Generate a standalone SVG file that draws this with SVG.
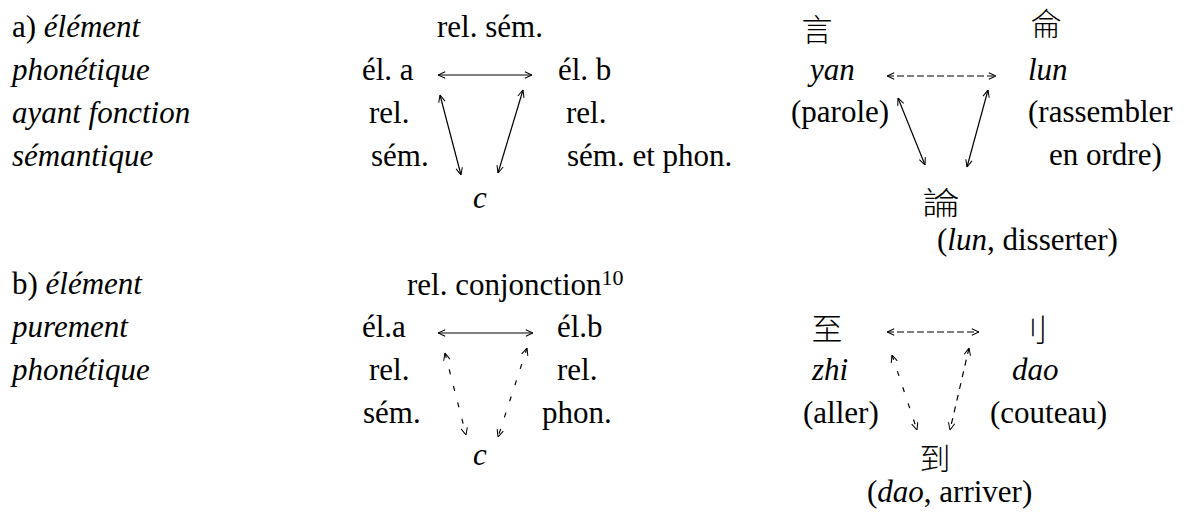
<svg xmlns="http://www.w3.org/2000/svg" width="1184" height="515" viewBox="0 0 1184 515">
<style>
text{font-family:"Liberation Serif","Times New Roman",serif;font-size:31px;fill:#000}
.i{font-style:italic}
.cjk{font-family:"Noto Sans CJK SC","Noto Sans CJK TC",sans-serif;font-weight:300}
.ln{stroke:#000;stroke-width:1.2;fill:none;marker-start:url(#ah);marker-end:url(#ah)}
.d1{stroke-dasharray:7 3}
.d2{stroke-dasharray:5 12}
.d3{stroke-dasharray:6 6}
</style>
<defs>
<marker id="ah" viewBox="0 0 10 10" refX="10" refY="5" markerWidth="8" markerHeight="8" markerUnits="userSpaceOnUse" orient="auto-start-reverse">
<path d="M1,1 L10,5 L1,9" fill="none" stroke="#000" stroke-width="1.3"/>
</marker>
</defs>
<rect width="1184" height="515" fill="#fff"/>

<g id="label-a">
<text x="12" y="37">a) <tspan class="i">élément</tspan></text>
<text class="i" x="12" y="80">phonétique</text>
<text class="i" x="12" y="123">ayant fonction</text>
<text class="i" x="12" y="166">sémantique</text>
</g>
<g id="label-b">
<text x="12" y="294">b) <tspan class="i">élément</tspan></text>
<text class="i" x="12" y="337">purement</text>
<text class="i" x="12" y="380">phonétique</text>
</g>

<g id="a-rel-sem"><text x="437" y="37">rel. sém.</text></g>
<g id="a-el-a"><text x="362" y="80">él. a</text></g>
<g id="a-el-b"><text x="558" y="80">él. b</text></g>
<g id="a-rel-left"><text x="369" y="123">rel.</text><text x="371" y="166">sém.</text></g>
<g id="a-rel-right"><text x="566" y="123">rel.</text><text x="567" y="166">sém. et phon.</text></g>
<g id="a-c"><text class="i" x="473" y="208">c</text></g>

<g id="a-yan"><text class="cjk" x="817" y="41" font-size="30" text-anchor="middle">言</text><text class="i" x="810" y="80">yan</text><text x="791" y="122">(parole)</text></g>
<g id="a-lun"><text class="cjk" x="1046" y="35" font-size="32" text-anchor="middle">侖</text><text class="i" x="1028" y="80">lun</text><text x="1028" y="122">(rassembler</text><text x="1049" y="165">en ordre)</text></g>
<g id="a-lun2"><text class="cjk" transform="translate(941,214) scale(1.2,1)" x="0" y="0" font-size="40" text-anchor="middle">論</text><text x="937" y="250">(<tspan class="i">lun</tspan>, disserter)</text></g>

<g id="b-rel-conj"><text x="407" y="295">rel. conjonction<tspan font-size="22" dy="-10">10</tspan></text></g>
<g id="b-el-a"><text x="362" y="337">él.a</text></g>
<g id="b-el-b"><text x="557" y="337">él.b</text></g>
<g id="b-rel-left"><text x="369" y="380">rel.</text><text x="363" y="423">sém.</text></g>
<g id="b-rel-right"><text x="557" y="380">rel.</text><text x="542" y="423">phon.</text></g>
<g id="b-c"><text class="i" x="473" y="465">c</text></g>

<g id="b-zhi"><text class="cjk" x="827" y="340" font-size="30" text-anchor="middle">至</text><text class="i" x="812" y="380">zhi</text><text x="803" y="423">(aller)</text></g>
<g id="b-dao"><text class="cjk" x="1032" y="341" font-size="30" text-anchor="middle">刂</text><text class="i" x="1012" y="380">dao</text><text x="990" y="423">(couteau)</text></g>
<g id="b-dao2"><text class="cjk" x="935" y="470" font-size="33" text-anchor="middle">到</text><text x="867" y="502">(<tspan class="i">dao</tspan>, arriver)</text></g>

<g id="connectors">
<line class="ln" x1="438" y1="75" x2="532" y2="75"/>
<line class="ln" x1="440" y1="95" x2="461" y2="175"/>
<line class="ln" x1="523" y1="90" x2="498" y2="173"/>
<line class="ln d1" x1="887" y1="76" x2="996" y2="76"/>
<line class="ln" x1="898" y1="98" x2="925" y2="165"/>
<line class="ln" x1="988" y1="90" x2="967" y2="167"/>
<line class="ln" x1="438" y1="333" x2="533" y2="333"/>
<line class="ln d2" x1="445" y1="353" x2="466" y2="435"/>
<line class="ln d2" x1="527" y1="348" x2="498" y2="437"/>
<line class="ln d1" x1="887" y1="332" x2="979" y2="332"/>
<line class="ln d2" x1="892" y1="355" x2="917" y2="430"/>
<line class="ln d3" x1="969" y1="348" x2="950" y2="430"/>
</g>
</svg>
